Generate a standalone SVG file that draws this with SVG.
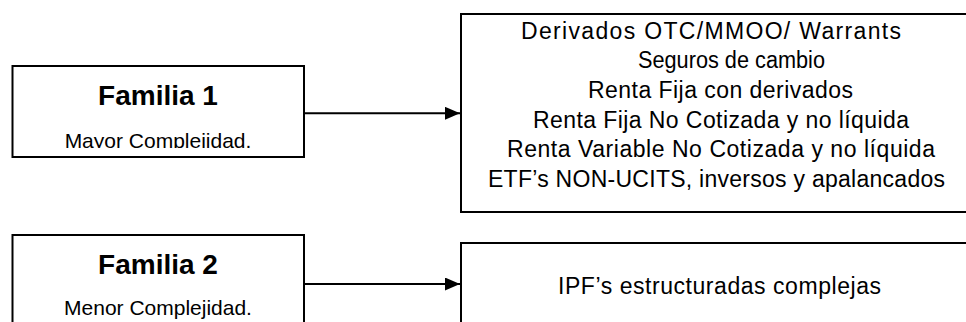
<svg xmlns="http://www.w3.org/2000/svg" width="966" height="322" viewBox="0 0 966 322">
<style>
.box{fill:#fff;stroke:#000;stroke-width:2}
.t{font-family:"Liberation Sans",Arial,sans-serif;fill:#000}
.title{font-size:28px;font-weight:bold;text-anchor:middle}
.sub{font-size:21px;text-anchor:middle}
.item{font-size:23px}
.conn{stroke:#000;stroke-width:2;fill:none}
</style>
<defs>
<marker id="arr" markerWidth="16" markerHeight="14" refX="15" refY="6.5" orient="auto" markerUnits="userSpaceOnUse">
<path d="M0,0 L15,6.5 L0,13 Z" fill="#000"/>
</marker>
<clipPath id="c1"><rect x="12" y="66" width="292" height="82"/></clipPath>
</defs>
<rect width="966" height="322" fill="#fff"/>
<g id="familia1">
<rect class="box" x="12.5" y="66" width="291.5" height="91"/>
<text class="t title" x="158" y="105">Familia 1</text>
<text class="t sub" x="158" y="147.5" clip-path="url(#c1)">Mayor Complejidad.</text>
</g>
<g id="familia2">
<rect class="box" x="12.5" y="235" width="291.5" height="100"/>
<text class="t title" x="158" y="274">Familia 2</text>
<text class="t sub" x="158" y="315">Menor Complejidad.</text>
</g>
<g id="productos1">
<rect class="box" x="461" y="14" width="520" height="198"/>
<text class="t item" x="521" y="38.5" textLength="380" lengthAdjust="spacing">Derivados OTC/MMOO/ Warrants</text>
<text class="t item" x="638" y="68.2" textLength="187" lengthAdjust="spacingAndGlyphs">Seguros de cambio</text>
<text class="t item" x="588" y="97.9" textLength="265" lengthAdjust="spacing">Renta Fija con derivados</text>
<text class="t item" x="533" y="127.6" textLength="376" lengthAdjust="spacing">Renta Fija No Cotizada y no líquida</text>
<text class="t item" x="507" y="157.3" textLength="428" lengthAdjust="spacing">Renta Variable No Cotizada y no líquida</text>
<text class="t item" x="488" y="187" textLength="457" lengthAdjust="spacing">ETF’s NON-UCITS, inversos y apalancados</text>
</g>
<g id="productos2">
<rect class="box" x="461" y="243" width="520" height="100"/>
<text class="t item" x="558" y="294" textLength="323" lengthAdjust="spacing">IPF’s estructuradas complejas</text>
</g>
<g id="connectors">
<line class="conn" x1="304" y1="113.3" x2="460" y2="113.3" marker-end="url(#arr)"/>
<line class="conn" x1="304" y1="284" x2="460" y2="284" marker-end="url(#arr)"/>
</g>
</svg>
